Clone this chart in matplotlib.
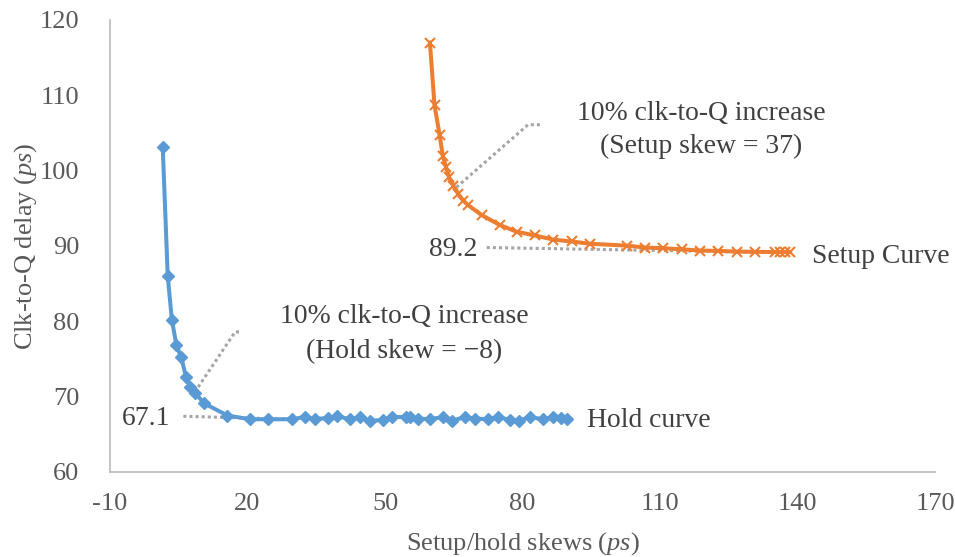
import matplotlib
matplotlib.use("Agg")
import matplotlib.pyplot as plt

plt.rcParams['font.family'] = ['Liberation Serif', 'DejaVu Serif']
plt.rcParams['mathtext.fontset'] = 'custom'
plt.rcParams['mathtext.rm'] = 'Liberation Serif'
plt.rcParams['mathtext.it'] = 'Liberation Serif:italic'
plt.rcParams['axes.unicode_minus'] = False

# Hold curve data
hold_x = [1.5, 2.6, 3.5, 4.5, 5.5, 6.6, 7.5, 8.5, 10.6, 15.6, 20.6, 24.5, 29.6, 32.5,
          34.7, 37.6, 39.6, 42.4, 44.5, 46.7, 49.6, 51.6, 54.6, 55.5, 57.3, 59.8,
          62.6, 64.6, 67.5, 69.6, 72.5, 74.7, 77.3, 79.3, 81.6, 84.5, 86.7, 88.5, 89.6]
hold_y = [103.2, 86.0, 80.2, 76.8, 75.3, 72.6, 71.3, 70.5, 69.1, 67.5, 67.0, 67.0, 67.0, 67.3,
          67.0, 67.2, 67.4, 67.0, 67.3, 66.8, 66.9, 67.3, 67.3, 67.3, 67.1, 67.0,
          67.3, 66.8, 67.3, 67.1, 67.0, 67.3, 66.9, 66.8, 67.3, 67.0, 67.3, 67.2, 67.1]

# Setup curve data
setup_x = [59.8, 60.8, 61.9, 62.6, 63.3, 64.0, 64.9, 66.0, 67.1, 68.2, 71.1, 75.0, 78.7,
           82.7, 86.7, 90.7, 94.7, 102.7, 106.7, 110.7, 114.7, 118.7, 122.7, 126.7,
           130.7, 135.1, 136.2, 137.3, 138.4]
setup_y = [117.0, 108.7, 104.8, 102.0, 100.5, 99.1, 98.0, 96.9, 96.0, 95.4, 94.1, 92.8, 91.9,
           91.4, 90.85, 90.6, 90.3, 90.05, 89.8, 89.7, 89.56, 89.4, 89.35, 89.26,
           89.23, 89.2, 89.2, 89.2, 89.2]

# Annotation leader lines (data coordinates)
setup_leader_x = [65.6, 81.2, 83.8]
setup_leader_y = [97.8, 106.1, 106.1]
hold_leader_x = [8.5, 17.3, 18.7]
hold_leader_y = [70.6, 78.6, 78.6]
setup_ref_x = [72.2, 138.4]
setup_ref_y = [89.8, 89.1]
hold_ref_x = [6.0, 29.6]
hold_ref_y = [67.4, 67.0]

x_ticks = [-10, 20, 50, 80, 110, 140, 170]
y_ticks = [60, 70, 80, 90, 100, 110, 120]

BLUE = '#5B9BD5'
ORANGE = '#ED7D31'
GRAY = '#A5A5A5'
TXT = '#404040'
TICK = '#595959'

fig = plt.figure(figsize=(9.55, 5.57), dpi=100)
ax = fig.add_axes([110/955, 1-472/557, 825/955, 452/557])

ax.plot(hold_x, hold_y, color=BLUE, lw=2.9, marker='D', ms=6, mec=BLUE, mfc=BLUE,
        zorder=3)
ax.plot(setup_x, setup_y, color=ORANGE, lw=2.9, marker='x', ms=6.5, mew=1.5, mec=ORANGE,
        zorder=3)

dot = dict(color=GRAY, lw=2.2, ls=(0, (1, 1)), zorder=2, solid_capstyle='butt')
ax.plot(setup_leader_x, setup_leader_y, **dot)
ax.plot(hold_leader_x, hold_leader_y, **dot)
ax.plot(setup_ref_x, setup_ref_y, **dot)
ax.plot(hold_ref_x, hold_ref_y, **dot)

fs = 19.9
ax.text(119, 106.73, '10% clk-to-Q increase', ha='center', va='baseline', fontsize=fs, color=TXT)
ax.text(119, 102.35, '(Setup skew = 37)', ha='center', va='baseline', fontsize=fs, color=TXT)
ax.text(54.15, 79.74, '10% clk-to-Q increase', ha='center', va='baseline', fontsize=fs, color=TXT)
ax.text(54.15, 75.13, '(Hold skew = \u22128)', ha='center', va='baseline', fontsize=fs, color=TXT)
ax.text(70.08, 88.67, '89.2', ha='right', va='baseline', fontsize=fs, color=TXT)
ax.text(3.1, 66.3, '67.1', ha='right', va='baseline', fontsize=fs, color=TXT)
ax.text(143.2, 87.7, 'Setup Curve', ha='left', va='baseline', fontsize=fs, color=TXT)
ax.text(94.1, 66.0, 'Hold curve', ha='left', va='baseline', fontsize=fs, color=TXT)

ax.set_xlim(-10, 170)
ax.set_ylim(60, 120)
ax.set_xticks(x_ticks)
ax.set_yticks(y_ticks)
ax.tick_params(length=0, labelsize=19, labelcolor=TICK)
ax.tick_params(axis='x', pad=15)
ax.tick_params(axis='y', pad=22)
for s in ['top', 'right']:
    ax.spines[s].set_visible(False)
for s in ['left', 'bottom']:
    ax.spines[s].set_color('#BFBFBF')
    ax.spines[s].set_linewidth(1.3)

ax.set_xlabel('Setup/hold skews ($\\mathit{ps}$)', fontsize=19, color=TICK, labelpad=11)
ax.set_ylabel('Clk-to-Q delay ($\\mathit{ps}$)', fontsize=19, color=TICK)
ax.yaxis.set_label_coords(-0.086, 0.5)

fig.savefig('out.png', dpi=100)
